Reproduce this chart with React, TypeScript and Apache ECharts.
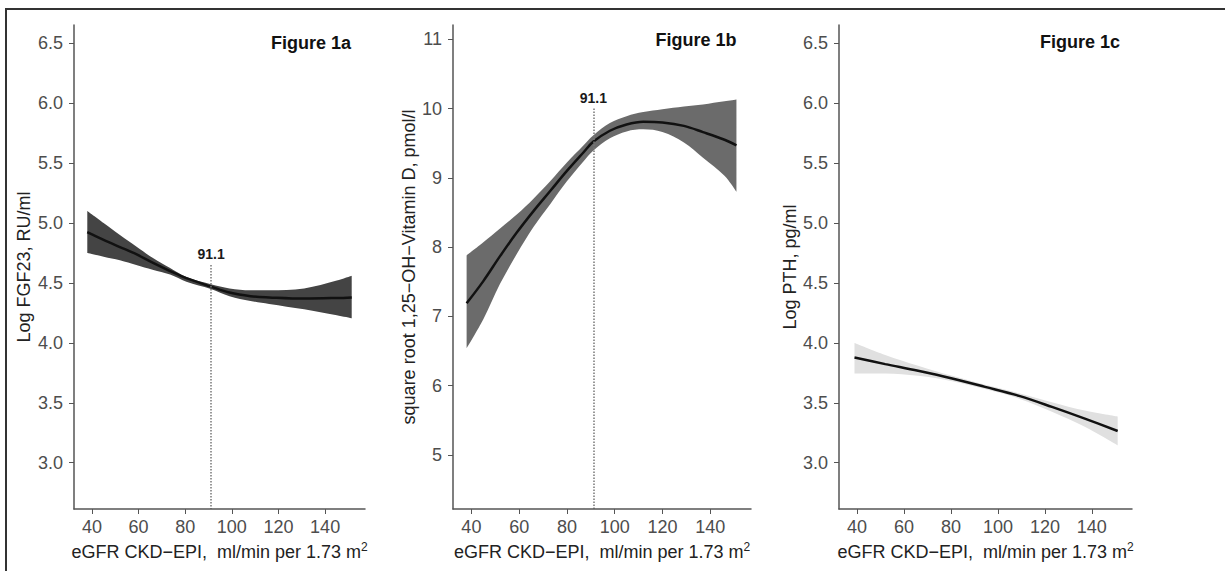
import React, { useEffect, useRef } from 'react';
import * as echarts from 'echarts';

// ---- tick values ----
const X_TICKS = [40, 60, 80, 100, 120, 140];
const Y_TICKS_LOG = [3.0, 3.5, 4.0, 4.5, 5.0, 5.5, 6.0, 6.5];
const Y_TICKS_VITD = [5, 6, 7, 8, 9, 10, 11];

// ---- axis ranges ----
const X_MIN = 32.3;
const X_MAX = 157.1;
const Y_LOG_MIN = 2.614;
const Y_LOG_MAX = 6.653;
const Y_VITD_MIN = 4.221;
const Y_VITD_MAX = 11.206;

// ---- cut-off marker ----
const CUTOFF = 91.1;
const CUTOFF_TOP_FGF23 = 4.65;
const CUTOFF_TOP_VITD = 10.0;

// ---- Figure 1a: Log FGF23 ----
const FGF23_X = [38, 45, 52, 59, 66, 73.5, 80.5, 91, 99, 108, 116, 131, 145, 151.4];
const FGF23_FIT = [4.925, 4.86, 4.80, 4.74, 4.67, 4.60, 4.54, 4.47, 4.42, 4.39, 4.38, 4.37, 4.375, 4.38];
const FGF23_UPPER = [5.10, 5.00, 4.90, 4.805, 4.71, 4.625, 4.55, 4.49, 4.455, 4.44, 4.44, 4.455, 4.52, 4.56];
const FGF23_LOWER = [4.75, 4.72, 4.69, 4.65, 4.61, 4.57, 4.51, 4.45, 4.39, 4.35, 4.325, 4.28, 4.23, 4.205];

// ---- Figure 1b: square root 1,25-OH-Vitamin D ----
const VITD_X = [38, 45, 52, 59, 66, 73, 80, 87, 91, 98, 105, 112, 120, 129, 137, 146, 151];
const VITD_FIT = [7.19, 7.51, 7.87, 8.21, 8.52, 8.81, 9.10, 9.37, 9.52, 9.68, 9.77, 9.81, 9.80, 9.75, 9.66, 9.55, 9.47];
const VITD_UPPER = [7.88, 8.07, 8.27, 8.47, 8.70, 8.95, 9.22, 9.47, 9.61, 9.79, 9.89, 9.95, 9.99, 10.03, 10.06, 10.105, 10.13];
const VITD_LOWER = [6.54, 6.96, 7.47, 7.90, 8.29, 8.62, 8.95, 9.24, 9.39, 9.57, 9.67, 9.70, 9.66, 9.51, 9.29, 9.03, 8.80];

// ---- Figure 1c: Log PTH ----
const PTH_X = [38.9, 52, 66, 80.5, 94.5, 109, 123, 137, 151];
const PTH_FIT = [3.878, 3.823, 3.767, 3.703, 3.633, 3.558, 3.466, 3.368, 3.265];
const PTH_UPPER = [4.00, 3.90, 3.81, 3.725, 3.65, 3.58, 3.505, 3.435, 3.385];
const PTH_LOWER = [3.745, 3.745, 3.725, 3.68, 3.615, 3.535, 3.425, 3.30, 3.145];

const FONT = '"Liberation Sans", Arial, Helvetica, sans-serif';
const AXIS_COLOR = '#555555';
const TICK_TEXT = '#4d4d4d';
const SMOOTH = 0.35;

function panelSeries(
  idx: number,
  xs: number[],
  fit: number[],
  upper: number[],
  lower: number[],
  bandColor: string,
  cutTop: number | null,
  yMin: number
): any[] {
  const common = {
    type: 'line',
    xAxisIndex: idx,
    yAxisIndex: idx,
    smooth: SMOOTH,
    symbol: 'none',
    showSymbol: false,
    silent: true,
  };
  const stackId = 'band' + idx;
  const fitSeries: any = {
    ...common,
    data: xs.map((x, i) => [x, fit[i]]),
    lineStyle: { color: '#111111', width: 2.5 },
    z: 4,
  };
  if (cutTop !== null) {
    fitSeries.markLine = {
      silent: true,
      symbol: ['none', 'none'],
      lineStyle: { color: '#777777', type: 'dotted', width: 1.5 },
      label: {
        show: true,
        position: 'start',
        formatter: String(CUTOFF),
        fontFamily: FONT,
        fontWeight: 'bold',
        fontSize: 14,
        color: '#1a1a1a',
        distance: 4,
      },
      data: [[{ coord: [CUTOFF, cutTop] }, { coord: [CUTOFF, yMin] }]],
    };
  }
  return [
    // lower bound (invisible base of the confidence band); value column first so the stack is on y
    {
      ...common,
      stack: stackId,
      encode: { x: 1, y: 0 },
      data: xs.map((x, i) => [lower[i], x]),
      lineStyle: { width: 0, opacity: 0 },
      z: 2,
    },
    // band thickness stacked on the lower bound
    {
      ...common,
      stack: stackId,
      encode: { x: 1, y: 0 },
      data: xs.map((x, i) => [upper[i] - lower[i], x]),
      lineStyle: { width: 0, opacity: 0 },
      areaStyle: { color: bandColor, opacity: 1 },
      z: 2,
    },
    fitSeries,
  ];
}

function xAxis(idx: number) {
  return {
    type: 'value',
    gridIndex: idx,
    min: X_MIN,
    max: X_MAX,
    z: 10,
    axisLine: { show: true, onZero: false, lineStyle: { color: AXIS_COLOR, width: 1.5 } },
    axisTick: { show: true, length: 5, customValues: X_TICKS, lineStyle: { color: AXIS_COLOR, width: 1 } },
    axisLabel: { customValues: X_TICKS, margin: 9, fontSize: 18, color: TICK_TEXT, fontFamily: FONT },
    splitLine: { show: false },
    name: '{a|eGFR CKD\u2212EPI,  ml/min per 1.73 m}{s|2}',
    nameLocation: 'middle',
    nameGap: 29,
    nameTextStyle: {
      rich: {
        a: { fontSize: 18, lineHeight: 22, color: '#222222', fontFamily: FONT },
        s: { fontSize: 12, verticalAlign: 'top', color: '#222222', fontFamily: FONT, padding: [0, 0, 2, 0] },
      },
    },
  };
}

function yAxis(idx: number, min: number, max: number, ticks: number[], name: string, gap: number, decimals: number) {
  return {
    type: 'value',
    gridIndex: idx,
    min,
    max,
    z: 10,
    axisLine: { show: true, onZero: false, lineStyle: { color: AXIS_COLOR, width: 1.5 } },
    axisTick: { show: true, length: 5, customValues: ticks, lineStyle: { color: AXIS_COLOR, width: 1 } },
    axisLabel: {
      customValues: ticks,
      margin: 11,
      fontSize: 18,
      color: TICK_TEXT,
      fontFamily: FONT,
      formatter: (v: number) => v.toFixed(decimals),
    },
    splitLine: { show: false },
    name,
    nameLocation: 'middle',
    nameGap: gap,
    nameTextStyle: { fontSize: 18, color: '#222222', fontFamily: FONT },
  };
}

function titleText(text: string, x: number, y: number) {
  return {
    type: 'text',
    x,
    y,
    style: {
      text,
      fill: '#111111',
      fontSize: 18,
      fontWeight: 'bold',
      fontFamily: FONT,
      align: 'center',
      verticalAlign: 'middle',
    },
  };
}

export default function App() {
  const ref = useRef<HTMLDivElement>(null);
  useEffect(() => {
    if (!ref.current) return;
    const chart = echarts.init(ref.current, null, { renderer: 'svg' });
    chart.setOption({
      animation: false,
      backgroundColor: '#ffffff',
      grid: [
        { left: 74, top: 25, width: 291, height: 484 },
        { left: 453, top: 25, width: 298, height: 484 },
        { left: 839, top: 25, width: 293, height: 484 },
      ],
      xAxis: [xAxis(0), xAxis(1), xAxis(2)],
      yAxis: [
        yAxis(0, Y_LOG_MIN, Y_LOG_MAX, Y_TICKS_LOG, 'Log FGF23, RU/ml', 41, 1),
        yAxis(1, Y_VITD_MIN, Y_VITD_MAX, Y_TICKS_VITD, 'square root 1,25\u2212OH\u2212Vitamin D, pmol/l', 35, 0),
        yAxis(2, Y_LOG_MIN, Y_LOG_MAX, Y_TICKS_LOG, 'Log PTH, pg/ml', 40, 1),
      ],
      series: [
        ...panelSeries(0, FGF23_X, FGF23_FIT, FGF23_UPPER, FGF23_LOWER, '#444444', CUTOFF_TOP_FGF23, Y_LOG_MIN),
        ...panelSeries(1, VITD_X, VITD_FIT, VITD_UPPER, VITD_LOWER, '#6b6b6b', CUTOFF_TOP_VITD, Y_VITD_MIN),
        ...panelSeries(2, PTH_X, PTH_FIT, PTH_UPPER, PTH_LOWER, '#e0e0e0', null, Y_LOG_MIN),
      ],
      graphic: [
        { type: 'line', shape: { x1: 6, y1: 9, x2: 1225, y2: 9 }, style: { stroke: '#333333', lineWidth: 2 } },
        { type: 'line', shape: { x1: 6, y1: 8, x2: 6, y2: 571 }, style: { stroke: '#333333', lineWidth: 2 } },
        titleText('Figure 1a', 311, 43),
        titleText('Figure 1b', 696, 40),
        titleText('Figure 1c', 1080, 42),
      ],
    });
    return () => chart.dispose();
  }, []);
  return (
    <div
      ref={ref}
      style={{ position: 'absolute', left: 0, top: 0, width: 1225, height: 571, background: '#fff' }}
    />
  );
}
